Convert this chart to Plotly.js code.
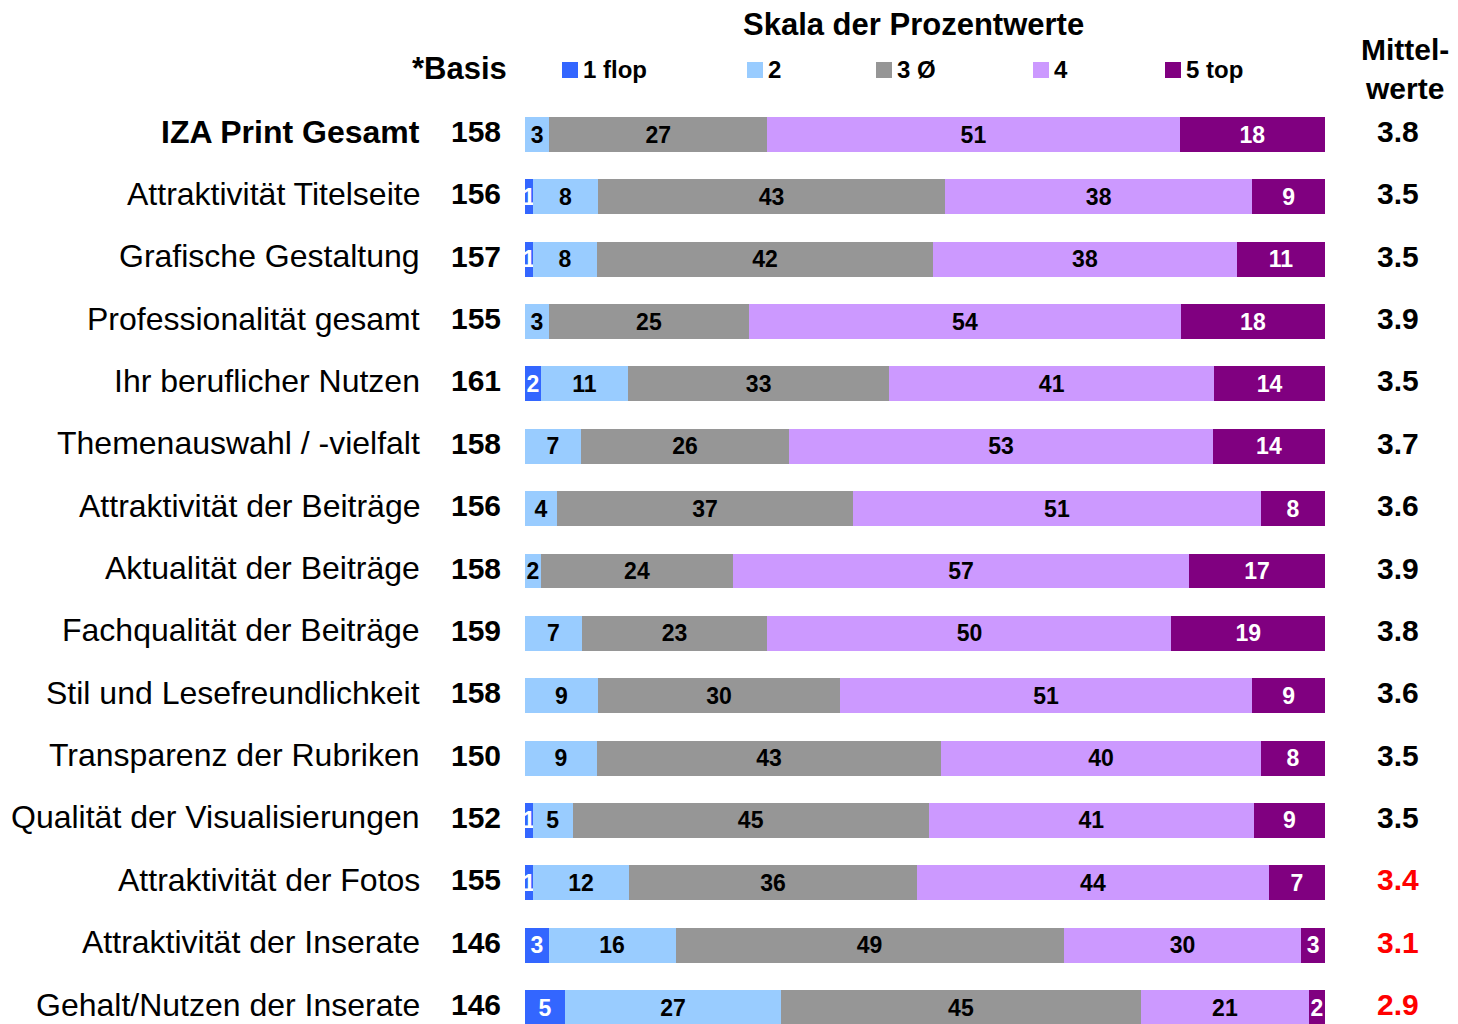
<!DOCTYPE html>
<html>
<head>
<meta charset="utf-8">
<script src="https://cdn.plot.ly/plotly-3.0.1.min.js"></script>
<style>
html,body{margin:0;padding:0;background:#fff;overflow:hidden;}
#chart{width:1458px;height:1024px;}
</style>
</head>
<body>
<div id="chart"></div>
<script>
const categories = [
  "IZA Print Gesamt",
  "Attraktivität Titelseite",
  "Grafische Gestaltung",
  "Professionalität gesamt",
  "Ihr beruflicher Nutzen",
  "Themenauswahl / -vielfalt",
  "Attraktivität der Beiträge",
  "Aktualität der Beiträge",
  "Fachqualität der Beiträge",
  "Stil und Lesefreundlichkeit",
  "Transparenz der Rubriken",
  "Qualität der Visualisierungen",
  "Attraktivität der Fotos",
  "Attraktivität der Inserate",
  "Gehalt/Nutzen der Inserate"
];
const basis = [158, 156, 157, 155, 161, 158, 156, 158, 159, 158, 150, 152, 155, 146, 146];
const flop1 = [0, 1, 1, 0, 2, 0, 0, 0, 0, 0, 0, 1, 1, 3, 5];
const val2  = [3, 8, 8, 3, 11, 7, 4, 2, 7, 9, 9, 5, 12, 16, 27];
const val3  = [27, 43, 42, 25, 33, 26, 37, 24, 23, 30, 43, 45, 36, 49, 45];
const val4  = [51, 38, 38, 54, 41, 53, 51, 57, 50, 51, 40, 41, 44, 30, 21];
const top5  = [18, 9, 11, 18, 14, 14, 8, 17, 19, 9, 8, 9, 7, 3, 2];
const means = [3.8, 3.5, 3.5, 3.9, 3.5, 3.7, 3.6, 3.9, 3.8, 3.6, 3.5, 3.5, 3.4, 3.1, 2.9];
const seriesNames = ["1 flop", "2", "3 Ø", "4", "5 top"];

const seriesValues = [flop1, val2, val3, val4, top5];
const seriesColors = ["#3366FF", "#99CCFF", "#969696", "#CC99FF", "#800080"];
const textColors = ["#FFFFFF", "#000000", "#000000", "#000000", "#FFFFFF"];
const FONT = "Liberation Sans, Arial, Helvetica, sans-serif";

const traces = seriesValues.map((vals, k) => ({
  type: "bar",
  orientation: "h",
  name: seriesNames[k],
  y: categories,
  x: vals,
  text: vals.map(v => v > 0 ? String(v) : ""),
  textposition: "inside",
  insidetextanchor: "middle",
  textangle: 0,
  constraintext: "none",
  insidetextfont: {family: FONT, size: 23, color: textColors[k], weight: "bold"},
  marker: {color: seriesColors[k], line: {width: 0}},
  hoverinfo: "name+x",
  showlegend: false,
  cliponaxis: true
}));

const L = 525, R = 1325, W = 800, H = 1024;
const px = p => (p - L) / W;
const py = p => 1 - p / H;

const annotations = [];
categories.forEach((c, i) => {
  annotations.push({
    xref: "paper", yref: "y", x: px(421), y: c, xanchor: "right", yanchor: "middle",
    yshift: 3, borderpad: 0,
    text: i === 0 ? "<b>" + c + "</b>" : c, showarrow: false,
    font: {family: FONT, size: 32, color: "#000"}
  });
  annotations.push({
    xref: "paper", yref: "y", x: px(502), y: c, xanchor: "right", yanchor: "middle",
    yshift: 3, borderpad: 0,
    text: "<b>" + basis[i] + "</b>", showarrow: false,
    font: {family: FONT, size: 30, color: "#000"}
  });
  annotations.push({
    xref: "paper", yref: "y", x: px(1398), y: c, xanchor: "center", yanchor: "middle",
    yshift: 3, borderpad: 0,
    text: "<b>" + means[i].toFixed(1) + "</b>", showarrow: false,
    font: {family: FONT, size: 30, color: means[i] < 3.45 ? "#FF0000" : "#000"}
  });
});
annotations.push({
  xref: "paper", yref: "paper", x: px(913), y: py(24), xanchor: "center", yanchor: "middle",
  text: "<b>Skala der Prozentwerte</b>", showarrow: false,
  font: {family: FONT, size: 31, color: "#000"}
});
annotations.push({
  xref: "paper", yref: "paper", x: px(509), y: py(68), xanchor: "right", yanchor: "middle",
  text: "<b>*Basis</b>", showarrow: false,
  font: {family: FONT, size: 31, color: "#000"}
});
annotations.push({
  xref: "paper", yref: "paper", x: px(1405), y: py(69), xanchor: "center", yanchor: "middle",
  text: "<b>Mittel-<br>werte</b>", showarrow: false,
  font: {family: FONT, size: 30, color: "#000"}
});

const legendX = [562, 747, 876, 1033, 1165];
const shapes = [];
seriesNames.forEach((n, k) => {
  shapes.push({
    type: "rect", xref: "paper", yref: "paper",
    x0: px(legendX[k]), x1: px(legendX[k] + 16), y0: py(78), y1: py(62),
    fillcolor: seriesColors[k], line: {width: 0}
  });
  annotations.push({
    xref: "paper", yref: "paper", x: px(legendX[k] + 19), y: py(69), xanchor: "left", yanchor: "middle",
    text: "<b>" + n + "</b>", showarrow: false,
    font: {family: FONT, size: 24, color: "#000"}
  });
});

const layout = {
  width: 1458, height: 1024,
  margin: {l: L, r: 1458 - R, t: 0, b: 0, pad: 0},
  barmode: "stack",
  barnorm: "percent",
  bargap: 0.44,
  paper_bgcolor: "#FFFFFF",
  plot_bgcolor: "#FFFFFF",
  font: {family: FONT, color: "#000"},
  xaxis: {range: [0, 100], showgrid: false, zeroline: false, showticklabels: false, ticks: "", showline: false, fixedrange: true},
  yaxis: {type: "category", range: [14.264, -2.157], showgrid: false, zeroline: false, showticklabels: false, ticks: "", showline: false, fixedrange: true},
  annotations: annotations,
  shapes: shapes,
  showlegend: false
};

Plotly.newPlot("chart", traces, layout, {displayModeBar: false, staticPlot: true});
</script>
</body>
</html>
